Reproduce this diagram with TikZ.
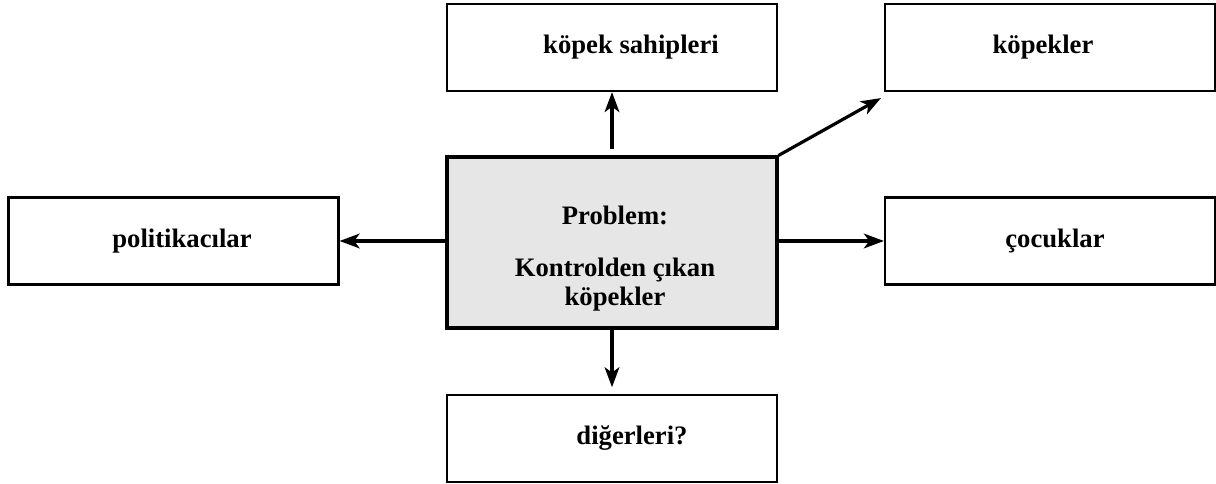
\documentclass[tikz,border=0pt]{standalone}
\usepackage{fontspec}
\setmainfont{Liberation Serif}
\usetikzlibrary{arrows.meta}
\definecolor{boxgray}{HTML}{E6E6E6}
\tikzset{
  box/.style={draw=black, line width=1.6pt, minimum width=247.5pt, minimum height=65.25pt, inner sep=0pt},
  probbox/.style={draw=black, line width=2.4pt, fill=boxgray, minimum width=247.5pt, minimum height=128.25pt, inner sep=0pt},
  lbl/.style={font=\bfseries\fontsize{20}{24}\selectfont, inner sep=0pt, align=center},
  arr/.style={line width=2.4pt, -{Stealth[length=15pt,width=11pt,inset=4pt]}}
}
\begin{document}
\begin{tikzpicture}[x=0.75pt,y=-0.75pt]
\useasboundingbox (0,0) rectangle (1216,484);
% boxes
\node[box] (own) at (612,47.5) {};
\node[box] (dogs) at (1050,47.5) {};
\node[box] (pol) at (173.5,241) {};
\node[box] (kids) at (1050,241) {};
\node[probbox] (prob) at (612,242.5) {};
\node[box] (oth) at (612,438.5) {};
% texts
\node[lbl] (town) at (631,47) {köpek sahipleri};
\node[lbl] (tdogs) at (1043,47) {köpekler};
\node[lbl] (tpol) at (182,241) {politikacılar};
\node[lbl] (tkids) at (1055,241) {çocuklar};
\node[lbl] (tprob1) at (615,215) {Problem:};
\node[lbl, text depth=0pt] (tprob2) at (615,282) {Kontrolden çıkan\\[-2pt]köpekler};
\node[lbl] (toth) at (632,438) {diğerleri?};
% arrows
\draw[arr] ([yshift=5pt]prob.north) -- (own.south);
\draw[arr] (prob.north east) -- ([xshift=-2.25pt,yshift=-4.5pt]dogs.south west);
\draw[arr] (pol.east -| prob.west) -- (pol.east);
\draw[arr] (kids.west -| prob.east) -- (kids.west);
\draw[arr] (prob.south) -- ([yshift=5pt]oth.north);
\end{tikzpicture}
\end{document}
